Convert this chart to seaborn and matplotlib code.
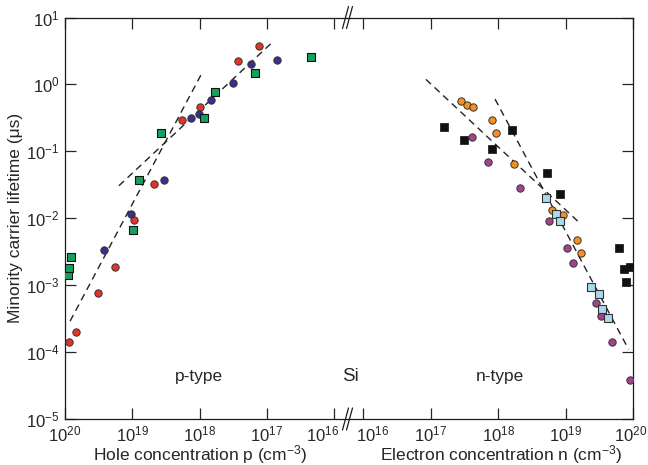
import matplotlib
matplotlib.use("Agg")
import matplotlib.pyplot as plt
import seaborn as sns
from matplotlib.ticker import FixedLocator, NullLocator, LogFormatterSciNotation, FuncFormatter

# ---- p-type Si: hole concentration (cm^-3) vs minority carrier lifetime (us)
p_red = [8.7e19, 6.9e19, 3.2e19, 1.8e19, 9.4e18, 4.8e18, 1.8e18, 1.0e18, 2.7e17, 1.3e17]
tau_p_red = [1.4e-4, 2.0e-4, 7.6e-4, 1.9e-3, 9.4e-3, 3.3e-2, 0.29, 0.46, 2.24, 3.75]

p_blue = [2.6e19, 1.05e19, 3.4e18, 1.35e18, 1.02e18, 6.8e17, 3.2e17, 1.7e17, 7.2e16]
tau_p_blue = [3.4e-3, 1.15e-2, 3.7e-2, 0.31, 0.36, 0.58, 1.05, 2.0, 2.3]

p_green = [9.1e19, 8.6e19, 8.1e19, 9.8e18, 7.9e18, 3.8e18, 8.5e17, 5.9e17, 1.5e17, 2.2e16]
tau_p_green = [1.4e-3, 1.78e-3, 2.6e-3, 6.6e-3, 3.7e-2, 0.19, 0.32, 0.76, 1.47, 2.54]

# dashed trend lines (end points)
p_fit1 = [8.4e19, 9.0e17]
tau_p_fit1 = [2.9e-4, 1.55]
p_fit2 = [1.58e19, 8.3e16]
tau_p_fit2 = [3.06e-2, 4.27]

# ---- n-type Si: electron concentration (cm^-3) vs lifetime (us)
n_orange = [2.8e17, 3.5e17, 4.3e17, 8.2e17, 9.2e17, 1.75e18, 6.3e18, 9.1e18, 1.5e19, 1.7e19]
tau_n_orange = [0.56, 0.50, 0.455, 0.29, 0.186, 0.064, 0.0133, 0.011, 4.7e-3, 3.05e-3]

n_black = [1.58e17, 3.1e17, 8.2e17, 1.6e18, 5.3e18, 8.3e18, 6.3e19, 7.4e19, 9.1e19, 7.8e19]
tau_n_black = [0.23, 0.148, 0.107, 0.21, 0.047, 0.0232, 3.55e-3, 1.72e-3, 1.85e-3, 1.12e-3]

n_purple = [4.1e17, 7.2e17, 2.1e18, 5.6e18, 1.05e19, 1.31e19, 2.8e19, 3.35e19, 4.9e19, 9.1e19]
tau_n_purple = [0.164, 0.069, 0.0283, 9.2e-3, 3.6e-3, 2.14e-3, 5.5e-4, 3.45e-4, 1.41e-4, 3.8e-5]

n_lblue = [5.2e18, 7.3e18, 8.4e18, 2.35e19, 3.1e19, 3.5e19, 4.2e19]
tau_n_lblue = [0.0198, 0.0117, 9.1e-3, 9.5e-4, 7.4e-4, 4.4e-4, 3.2e-4]

n_fit1 = [8.5e16, 1.6e19]
tau_n_fit1 = [1.19, 8.6e-3]
n_fit2 = [9.0e17, 8.6e19]
tau_n_fit2 = [0.605, 1.1e-4]

x_ticks_p = [1e20, 1e19, 1e18, 1e17, 1e16]
x_ticks_n = [1e16, 1e17, 1e18, 1e19, 1e20]
y_ticks = [1e-5, 1e-4, 1e-3, 1e-2, 1e-1, 1e0, 1e1]

sns.set_style("ticks")
plt.rcParams['font.family'] = ['Liberation Sans', 'DejaVu Sans']
plt.rcParams['mathtext.fontset'] = 'custom'
plt.rcParams['mathtext.rm'] = 'Liberation Sans'
plt.rcParams['mathtext.it'] = 'Liberation Sans:italic'
plt.rcParams['mathtext.bf'] = 'Liberation Sans:bold'

W, H = 648, 465
fig = plt.figure(figsize=(W / 100, H / 100), dpi=100)
x0, x_break, x1 = 65, 347, 633
y_top, y_bot = 17.5, 419
bot = 1 - y_bot / H
hgt = (y_bot - y_top) / H
ax_p = fig.add_axes([x0 / W, bot, (x_break - x0) / W, hgt])
ax_n = fig.add_axes([x_break / W, bot, (x1 - x_break) / W, hgt], sharey=ax_p)

dash = (0, (5, 3.5))
edge = '#333333'

for ax in (ax_p, ax_n):
    ax.set_xscale('log')
    ax.set_yscale('log')

# p-type side
sns.scatterplot(x=p_red, y=tau_p_red, ax=ax_p, marker='o', s=28, color='#e5332a',
                edgecolor=edge, linewidth=0.7, zorder=3)
sns.scatterplot(x=p_blue, y=tau_p_blue, ax=ax_p, marker='o', s=28, color='#35318f',
                edgecolor=edge, linewidth=0.7, zorder=3)
sns.scatterplot(x=p_green, y=tau_p_green, ax=ax_p, marker='s', s=26, color='#17a05d',
                edgecolor='#111111', linewidth=0.8, zorder=3)
ax_p.plot(p_fit1, tau_p_fit1, color='#222222', lw=1.0, ls=dash, zorder=2)
ax_p.plot(p_fit2, tau_p_fit2, color='#222222', lw=1.0, ls=dash, zorder=2)

# n-type side
sns.scatterplot(x=n_black, y=tau_n_black, ax=ax_n, marker='s', s=26, color='#111111',
                edgecolor='#111111', linewidth=0.5, zorder=3)
sns.scatterplot(x=n_orange, y=tau_n_orange, ax=ax_n, marker='o', s=28, color='#f7901e',
                edgecolor=edge, linewidth=0.7, zorder=3)
sns.scatterplot(x=n_purple, y=tau_n_purple, ax=ax_n, marker='o', s=28, color='#a3428e',
                edgecolor=edge, linewidth=0.7, zorder=3)
sns.scatterplot(x=n_lblue, y=tau_n_lblue, ax=ax_n, marker='s', s=26, color='#a9d9ee',
                edgecolor='#333333', linewidth=0.8, zorder=3)
ax_n.plot(n_fit1, tau_n_fit1, color='#222222', lw=1.0, ls=dash, zorder=2)
ax_n.plot(n_fit2, tau_n_fit2, color='#222222', lw=1.0, ls=dash, zorder=2)

ax_p.set_xlim(1e20, 10 ** 15.81)
ax_n.set_xlim(10 ** 15.76, 1e20)
ax_p.set_ylim(1e-5, 10)

sci = LogFormatterSciNotation()


def x_fmt_p(v, pos):
    # the 1e16 label next to the break is placed by hand below
    if abs(v - 1e16) < 1e14:
        return ''
    return sci(v, pos)


def x_fmt_n(v, pos):
    if abs(v - 1e16) < 1e14 or abs(v - 1e20) < 1e18:
        return ''
    return sci(v, pos)


ax_p.xaxis.set_major_locator(FixedLocator(x_ticks_p))
ax_n.xaxis.set_major_locator(FixedLocator(x_ticks_n))
ax_p.xaxis.set_major_formatter(FuncFormatter(x_fmt_p))
ax_n.xaxis.set_major_formatter(FuncFormatter(x_fmt_n))
for ax in (ax_p, ax_n):
    ax.yaxis.set_major_locator(FixedLocator(y_ticks))
    ax.xaxis.set_minor_locator(NullLocator())
    ax.yaxis.set_minor_locator(NullLocator())
    ax.yaxis.set_major_formatter(LogFormatterSciNotation())
    for sp in ax.spines.values():
        sp.set_linewidth(0.9)
        sp.set_color('#1a1a1a')
    ax.set_xlabel('')
    ax.set_ylabel('')

ax_p.spines['right'].set_visible(False)
ax_n.spines['left'].set_visible(False)
ax_p.tick_params(axis='both', direction='in', length=8, width=0.9, labelsize=12,
                 top=True, bottom=True, left=True, right=False, pad=4)
ax_n.tick_params(axis='both', direction='in', length=8, width=0.9, labelsize=12,
                 top=True, bottom=True, left=False, right=True, labelleft=False, pad=4)

tick_y = 1 - (y_bot + 5.5) / H
fig.text(323 / W, tick_y, r'$\mathdefault{10^{16}}$', ha='center', va='top', fontsize=12)
fig.text(373 / W, tick_y, r'$\mathdefault{10^{16}}$', ha='center', va='top', fontsize=12)
fig.text(631 / W, tick_y, r'$\mathdefault{10^{20}}$', ha='center', va='top', fontsize=12)

# axis labels
fs = 12.5
fig.text(200 / W, 1 - 455 / H, 'Hole concentration p (cm$^{-3}$)', ha='center',
         va='center', fontsize=fs)
fig.text(501 / W, 1 - 455 / H, 'Electron concentration n (cm$^{-3}$)', ha='center',
         va='center', fontsize=fs)
fig.text(16 / W, 1 - 218 / H, 'Minority carrier lifetime (\u03bcs)', ha='center',
         va='center', rotation=90, fontsize=fs)

fig.text(199 / W, 1 - 376 / H, 'p-type', ha='center', va='center', fontsize=fs)
fig.text(350 / W, 1 - 376 / H, 'Si', ha='center', va='center', fontsize=fs + 1)
fig.text(500 / W, 1 - 376 / H, 'n-type', ha='center', va='center', fontsize=fs)

# axis break marks "//"
for yc in (y_top, y_bot):
    for xc in (345.5, 349.5):
        fig.add_artist(plt.Line2D([(xc - 3) / W, (xc + 3) / W],
                                  [1 - (yc + 11) / H, 1 - (yc - 11) / H],
                                  color='#1a1a1a', lw=0.9))

fig.savefig('out.png', dpi=100)
